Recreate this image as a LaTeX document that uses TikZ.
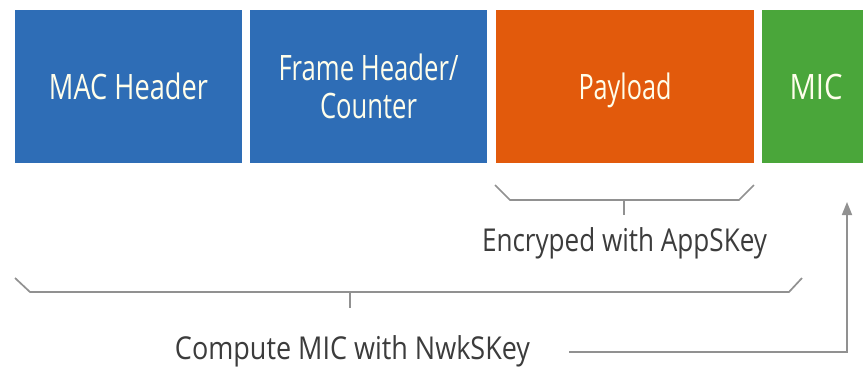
\documentclass[tikz,border=0pt]{standalone}
\usepackage{fontspec}
\setmainfont{Open Sans}
\usetikzlibrary{arrows.meta,calc}
\definecolor{fieldblue}{RGB}{46,109,182}
\definecolor{fieldorange}{RGB}{226,90,12}
\definecolor{fieldgreen}{RGB}{74,166,58}
\definecolor{bracegray}{RGB}{145,145,145}
\definecolor{labelgray}{RGB}{60,60,60}
% squeeze a text horizontally to a given width, keeping its height
\newcommand{\squeeze}[2]{\resizebox{#1}{\height}{#2}}
\tikzset{
  field/.style={draw=none, inner sep=0pt, minimum height=153pt,
    text=white!92!yellow, font=\fontsize{35}{40}\selectfont, align=center},
  brace/.style={draw=bracegray, line width=1.7pt, line join=miter},
  caption/.style={inner sep=0pt, text=labelgray, font=\fontsize{31.5}{36}\selectfont},
}
\begin{document}
\begin{tikzpicture}[x=1pt, y=-1pt]
\useasboundingbox (0,0) rectangle (863,376);
\fill[white] (0,0) rectangle (863,376);

% frame fields
\node[field, fill=fieldblue, minimum width=227pt] (mac) at (128.5,86.5)
  {\squeeze{159pt}{MAC Header}};
\node[field, fill=fieldblue, minimum width=237pt] (fhdr) at (368.5,86.5)
  {\squeeze{180pt}{Frame Header/}\\[-2pt]\squeeze{97pt}{Counter}};
\node[field, fill=fieldorange, minimum width=258pt, text depth=0pt] (pay) at (625,86.5)
  {\squeeze{93pt}{Payload}};
\node[field, fill=fieldgreen, minimum width=108pt] (mic) at (816,86.5)
  {\squeeze{53pt}{MIC}};

% bracket under the payload
\coordinate (pb1) at (495,185);
\coordinate (pb2) at (510,200);
\coordinate (pb3) at (739,200);
\coordinate (pb4) at (754,185);
\coordinate (pbm) at (624,200);
\draw[brace] (pb1) -- (pb2) -- (pb3) -- (pb4);
\draw[brace] (pbm) -- ++(0,15) coordinate (pbt);
\node[caption] (enc) at (624.5,243) {\squeeze{285pt}{Encryped with AppSKey}};

% bracket under the whole frame
\coordinate (fb1) at (15,278);
\coordinate (fb2) at (30,292);
\coordinate (fb3) at (789,292);
\coordinate (fb4) at (802,278);
\coordinate (fbm) at (350,292);
\draw[brace] (fb1) -- (fb2) -- (fb3) -- (fb4);
\draw[brace] (fbm) -- ++(0,16) coordinate (fbt);
\node[caption] (cmp) at (352.5,351) {\squeeze{355pt}{Compute MIC with NwkSKey}};

% MIC result fed back to the MIC field
\coordinate (turn) at (847,352);
\coordinate (tip) at (847,202);
\draw[brace, -{Triangle[length=13pt,width=10pt]}]
  ([xshift=39pt]cmp.east |- turn) -- (turn) -- (tip);
\end{tikzpicture}
\end{document}
